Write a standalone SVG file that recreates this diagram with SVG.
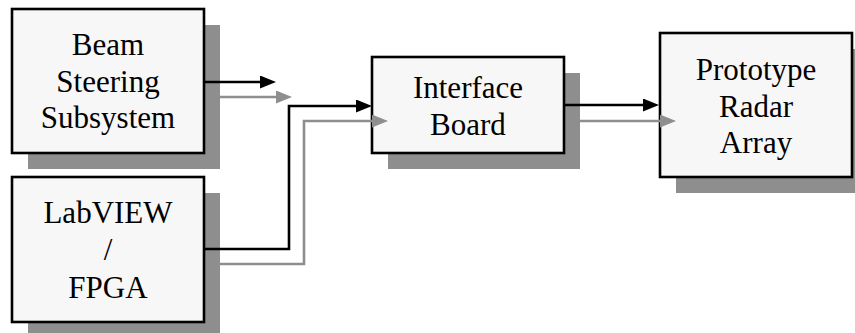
<svg xmlns="http://www.w3.org/2000/svg" width="855" height="333" viewBox="0 0 855 333">
  <style>
    .shadow { fill: #8e8e8e; }
    .box { fill: #f7f7f7; stroke: #000; stroke-width: 2.6; }
    .label { font-family: "Times New Roman", Times, "Liberation Serif", "Nimbus Roman", "DejaVu Serif", serif; font-size: 31px; fill: #000; text-anchor: middle; }
    .wire-dark { fill: none; stroke: #000; stroke-width: 2.6; }
    .wire-light { fill: none; stroke: #8e8e8e; stroke-width: 2.6; }
  </style>
  <defs>
    <marker id="head-dark" markerUnits="userSpaceOnUse" viewBox="0 0 16 13" refX="2" refY="6.5" markerWidth="16" markerHeight="13" orient="auto">
      <path d="M0,0 L16,6.5 L0,13 Z" fill="#000"/>
    </marker>
    <marker id="head-light" markerUnits="userSpaceOnUse" viewBox="0 0 16 13" refX="2" refY="6.5" markerWidth="16" markerHeight="13" orient="auto">
      <path d="M0,0 L16,6.5 L0,13 Z" fill="#8e8e8e"/>
    </marker>
  </defs>

  <g id="beam-steering">
    <rect class="shadow" x="28" y="25" width="192" height="144"/>
    <rect class="box" x="12" y="9" width="192" height="144"/>
    <text class="label" x="108" y="55">Beam</text>
    <text class="label" x="108" y="92">Steering</text>
    <text class="label" x="108" y="128">Subsystem</text>
  </g>

  <g id="labview-fpga">
    <rect class="shadow" x="28" y="193" width="192" height="145"/>
    <rect class="box" x="12" y="177" width="192" height="145"/>
    <text class="label" x="108" y="223">LabVIEW</text>
    <text class="label" x="108" y="260">/</text>
    <text class="label" x="108" y="298">FPGA</text>
  </g>

  <g id="interface-board">
    <rect class="shadow" x="388" y="73" width="192" height="96"/>
    <rect class="box" x="372" y="57" width="192" height="96"/>
    <text class="label" x="468" y="98">Interface</text>
    <text class="label" x="468" y="135">Board</text>
  </g>

  <g id="radar-array">
    <rect class="shadow" x="676" y="49" width="192" height="144"/>
    <rect class="box" x="660" y="33" width="192" height="144"/>
    <text class="label" x="756" y="80">Prototype</text>
    <text class="label" x="756" y="117">Radar</text>
    <text class="label" x="756" y="153">Array</text>
  </g>

  <g id="connectors">
    <path class="wire-dark" d="M204,82 H262" marker-end="url(#head-dark)"/>
    <path class="wire-light" d="M220,97 H278" marker-end="url(#head-light)"/>
    <path class="wire-dark" d="M204,249 H289 V106 H358" marker-end="url(#head-dark)"/>
    <path class="wire-light" d="M220,264 H304 V121 H374" marker-end="url(#head-light)"/>
    <path class="wire-dark" d="M564,105 H645" marker-end="url(#head-dark)"/>
    <path class="wire-light" d="M580,121 H662" marker-end="url(#head-light)"/>
  </g>
</svg>
